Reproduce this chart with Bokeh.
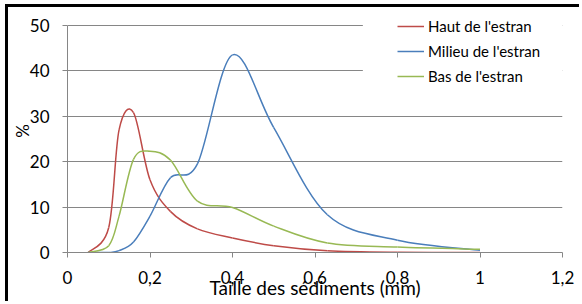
from bokeh.plotting import figure
from bokeh.models import FixedTicker, BoxAnnotation, Legend, LegendItem
from bokeh.embed import file_html
from bokeh.resources import INLINE

# ---- data ----
sizes = [0.05, 0.1, 0.125, 0.16, 0.2, 0.25, 0.315, 0.4, 0.5, 0.63, 0.8, 1.0]
haut = [0, 5.5, 27, 30.8, 16, 9, 5.2, 3.2, 1.5, 0.4, 0.05, 0]
milieu = [0, 0, 0.4, 2.3, 8, 16.5, 19.5, 43.5, 27.5, 8.3, 2.7, 0.5]
bas = [0, 1.5, 8, 20.5, 22.3, 20.3, 11.3, 9.9, 5.8, 2.1, 1.2, 0.7]

series_names = ["Haut de l'estran", "Milieu de l'estran", "Bas de l'estran"]
series_values = [haut, milieu, bas]
series_colors = ["#BE4B48", "#4A7EBB", "#98B954"]

x_ticks = [0, 0.2, 0.4, 0.6, 0.8, 1.0, 1.2]
x_tick_labels = ["0", "0,2", "0,4", "0,6", "0,8", "1", "1,2"]
y_ticks = [0, 10, 20, 30, 40, 50]

FONT = "Lato"
GRID = "#868686"


def smooth_segments(xs, ys):
    """Excel-like smoothed line: cubic Bezier control points from neighbours."""
    n = len(xs)
    out = dict(x0=[], y0=[], x1=[], y1=[], cx0=[], cy0=[], cx1=[], cy1=[])
    for i in range(n - 1):
        xp, yp = (xs[i - 1], ys[i - 1]) if i > 0 else (xs[i], ys[i])
        xn, yn = (xs[i + 2], ys[i + 2]) if i + 2 < n else (xs[i + 1], ys[i + 1])
        out["x0"].append(xs[i]); out["y0"].append(ys[i])
        out["x1"].append(xs[i + 1]); out["y1"].append(ys[i + 1])
        out["cx0"].append(xs[i] + (xs[i + 1] - xp) / 6.0)
        out["cy0"].append(ys[i] + (ys[i + 1] - yp) / 6.0)
        out["cx1"].append(xs[i + 1] - (xn - xs[i]) / 6.0)
        out["cy1"].append(ys[i + 1] - (yn - ys[i]) / 6.0)
    return out


p = figure(width=574, height=297, output_backend="svg", toolbar_location=None,
           x_range=(0, 1.2), y_range=(0, 53.5),
           min_border_left=58, min_border_right=20, min_border_top=2, min_border_bottom=52)

p.styles = {"border-left": "3px solid #000", "border-top": "3px solid #000",
            "margin-left": "5px", "margin-top": "4px"}
p.border_fill_color = "white"
p.background_fill_color = "white"
p.outline_line_color = None

# grid
p.xgrid.visible = False
p.ygrid.grid_line_color = GRID
p.ygrid.grid_line_width = 1
p.ygrid.ticker = FixedTicker(ticks=y_ticks)

# mask for the legend area (legend box covers gridlines)
mask = BoxAnnotation(left=0.716, bottom=33, fill_color="white", fill_alpha=1,
                     line_alpha=0, level="underlay")
p.add_layout(mask)

# axes
for ax in (p.xaxis[0], p.yaxis[0]):
    ax.axis_line_color = GRID
    ax.major_tick_line_color = GRID
    ax.major_tick_out = 5
    ax.major_tick_in = 0
    ax.minor_tick_line_color = None
    ax.major_label_text_font = FONT
    ax.major_label_text_font_size = "17px"
    ax.major_label_text_color = "#000000"
    ax.axis_label_text_font = FONT
    ax.axis_label_text_font_style = "normal"
    ax.axis_label_text_color = "#000000"

p.xaxis.ticker = FixedTicker(ticks=x_ticks)
p.xaxis.major_label_overrides = {t: l for t, l in zip(x_ticks, x_tick_labels)}
p.xaxis.major_label_standoff = 13
p.xaxis.axis_label = "Taille des sédiments (mm)"
p.xaxis.axis_label_text_font_size = "19px"
p.xaxis.axis_label_standoff = -11

p.yaxis.ticker = FixedTicker(ticks=y_ticks)
p.yaxis.bounds = (0, 50)
p.yaxis.major_label_standoff = 13
p.yaxis.axis_label = "%"
p.yaxis.axis_label_text_font_size = "17px"
p.yaxis.axis_label_standoff = -6

# curves
items = []
for name, vals, col in zip(series_names, series_values, series_colors):
    seg = smooth_segments(sizes, vals)
    p.bezier(x0=seg["x0"], y0=seg["y0"], x1=seg["x1"], y1=seg["y1"],
             cx0=seg["cx0"], cy0=seg["cy0"], cx1=seg["cx1"], cy1=seg["cy1"],
             line_color=col, line_width=1.5)
    r = p.line(x=[-1, -0.9], y=[-5, -5], line_color=col, line_width=1.5)
    items.append(LegendItem(label=name, renderers=[r]))

legend = Legend(items=items, location=(324, 160), orientation="vertical",
                padding=6, margin=0, spacing=5,
                glyph_width=27, glyph_height=20, label_height=20, label_standoff=4,
                label_text_font=FONT, label_text_font_size="15px",
                label_text_color="#000000",
                background_fill_alpha=0, border_line_alpha=0)
p.add_layout(legend)

open("out.html", "w").write(file_html(p, INLINE))
